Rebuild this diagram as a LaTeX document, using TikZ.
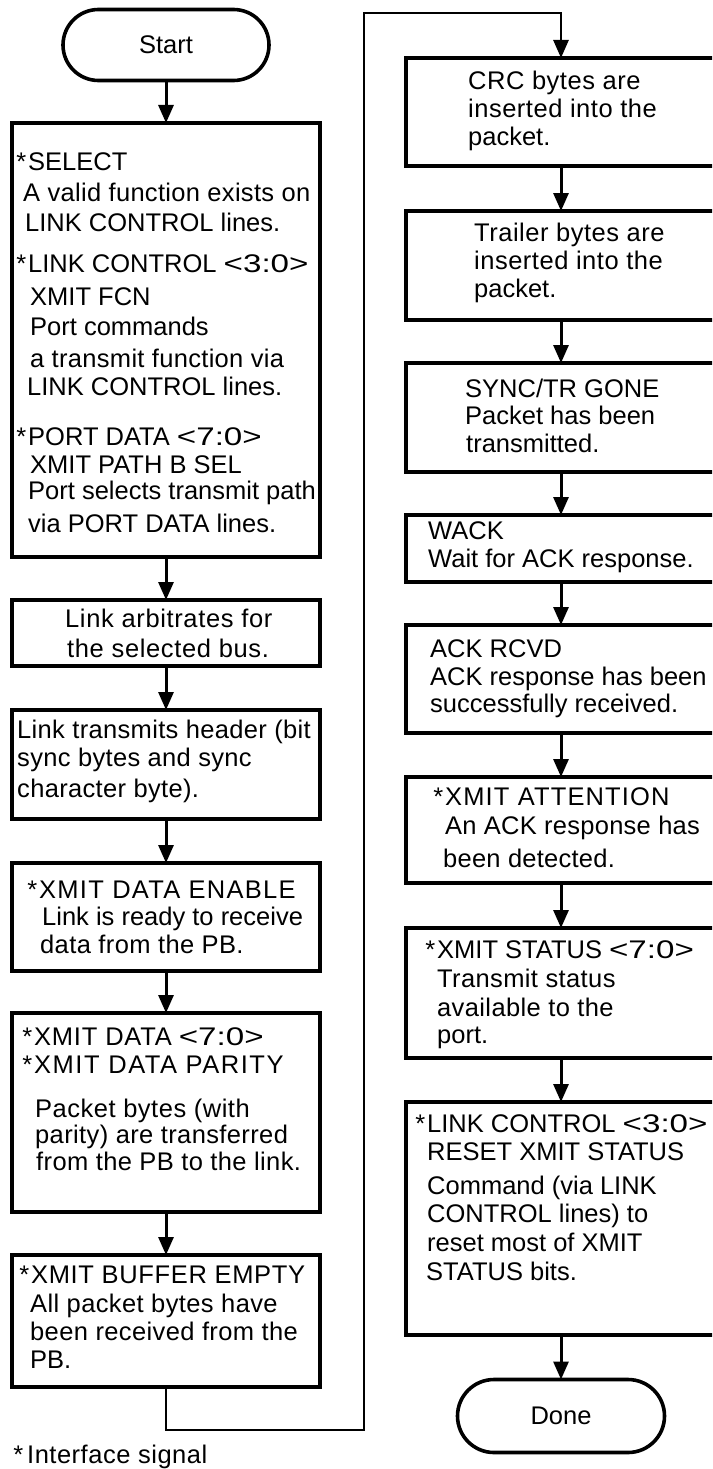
\documentclass[tikz,border=0pt]{standalone}
\usepackage{fontspec}
\usepackage{graphicx}
\setmainfont{Liberation Sans}
\usetikzlibrary{arrows.meta,shapes.misc}
% hanging asterisk that marks an interface signal
\newcommand\hang{\llap{*\kern2pt}}
% locally widened letter spacing
\newcommand\ls[2]{{\addfontfeature{LetterSpace=#1}#2}}
% bit-range field such as <3:0>, set in wide glyphs
\newcommand\bits[1]{\scalebox{1.3}[1]{#1}}
\begin{document}
\begin{tikzpicture}[x=1pt,y=-1pt,
  stepbox/.style={draw, line width=3.6pt, inner sep=0pt, outer sep=0pt, anchor=north west},
  term/.style={draw, rounded rectangle, line width=3.6pt, inner sep=0pt, outer sep=0pt,
               font=\fontsize{25.5}{30}\selectfont},
  txt/.style={inner sep=0pt, anchor=base west, font=\fontsize{25.5}{30}\selectfont},
  flow/.style={line width=3pt, -{Triangle[length=18pt,width=15pt]}},
  loopline/.style={line width=2.7pt, -{Triangle[length=18pt,width=15pt]}}]

\fill[white] (0,0) rectangle (712,1469);
\useasboundingbox (0,0) rectangle (712,1469);
\clip (0,0) rectangle (712,1469);

% ---------- left column ----------
\node[term, minimum width=206pt, minimum height=71pt] (start) at (166,45) {Start};

\node[stepbox, minimum width=308pt, minimum height=434pt] (b1) at (12,123) {};
\foreach \x/\y/\t [count=\i] in {
  28/170/{\hang SELECT},
  23/201/{\ls{1.2}{A valid function exists on}},
  25/231/{LINK CONTROL lines.},
  28/272/{\hang LINK CONTROL \bits{<3:0>}},
  30/305/{XMIT FCN},
  30/335/{Port commands},
  30/367/{\ls{1.2}{a transmit function via}},
  27/395/{LINK CONTROL lines.},
  28/445/{\hang PORT DATA \bits{<7:0>}},
  30/473/{XMIT PATH B SEL},
  28/499/{Port selects transmit path},
  28/532/{via PORT DATA lines.}}
  \node[txt] (b1t\i) at (\x,\y) {\t};

\node[stepbox, minimum width=308pt, minimum height=66pt] (b2) at (12,600) {};
\foreach \x/\y/\t [count=\i] in {
  65/627/{\ls{2.5}{Link arbitrates for}},
  67/657/{\ls{2.5}{the selected bus.}}}
  \node[txt] (b2t\i) at (\x,\y) {\t};

\node[stepbox, minimum width=308pt, minimum height=109pt] (b3) at (12,710) {};
\foreach \x/\y/\t [count=\i] in {
  17/738/{\ls{1.3}{Link transmits header (bit}},
  17/766/{\ls{1.3}{sync bytes and sync}},
  17/797/{\ls{1.3}{character byte).}}}
  \node[txt] (b3t\i) at (\x,\y) {\t};

\node[stepbox, minimum width=308pt, minimum height=108pt] (b4) at (12,863) {};
\foreach \x/\y/\t [count=\i] in {
  39/898/{\hang\ls{5}{XMIT DATA ENABLE}},
  42/925/{Link is ready to receive},
  40/953/{\ls{1.5}{data from the PB.}}}
  \node[txt] (b4t\i) at (\x,\y) {\t};

\node[stepbox, minimum width=308pt, minimum height=199pt] (b5) at (12,1013) {};
\foreach \x/\y/\t [count=\i] in {
  34/1045/{\hang\ls{3}{XMIT DATA} \bits{<7:0>}},
  34/1073/{\hang\ls{6}{XMIT DATA PARITY}},
  35/1117/{\ls{2}{Packet bytes (with}},
  35/1143/{\ls{1.5}{parity) are transferred}},
  36/1170/{\ls{1.5}{from the PB to the link.}}}
  \node[txt] (b5t\i) at (\x,\y) {\t};

\node[stepbox, minimum width=308pt, minimum height=132pt] (b6) at (12,1255) {};
\foreach \x/\y/\t [count=\i] in {
  31/1283/{\hang\ls{2.5}{XMIT BUFFER EMPTY}},
  30/1312/{\ls{1.5}{All packet bytes have}},
  30/1340/{\ls{1.5}{been received from the}},
  30/1368/{PB.}}
  \node[txt] (b6t\i) at (\x,\y) {\t};

\node[txt] (note) at (27,1463) {\llap{*\kern4pt}\ls{2}{Interface signal}};

% ---------- right column ----------
\node[stepbox, minimum width=310pt, minimum height=108pt] (r1) at (406,58) {};
\foreach \x/\y/\t [count=\i] in {
  468/90/{\ls{2}{CRC bytes are}},
  468/118/{\ls{2}{inserted into the}},
  468/146/{packet.}}
  \node[txt] (r1t\i) at (\x,\y) {\t};

\node[stepbox, minimum width=310pt, minimum height=109pt] (r2) at (406,211) {};
\foreach \x/\y/\t [count=\i] in {
  474/241/{\ls{2}{Trailer bytes are}},
  474/269/{\ls{2}{inserted into the}},
  474/297/{packet.}}
  \node[txt] (r2t\i) at (\x,\y) {\t};

\node[stepbox, minimum width=310pt, minimum height=109pt] (r3) at (406,363) {};
\foreach \x/\y/\t [count=\i] in {
  465/397/{SYNC\slash TR GONE},
  465/424/{Packet has been},
  466/452/{transmitted.}}
  \node[txt] (r3t\i) at (\x,\y) {\t};

\node[stepbox, minimum width=310pt, minimum height=67pt] (r4) at (406,515) {};
\foreach \x/\y/\t [count=\i] in {
  428/539/{WACK},
  428/567/{Wait for ACK response.}}
  \node[txt] (r4t\i) at (\x,\y) {\t};

\node[stepbox, minimum width=310pt, minimum height=108pt] (r5) at (406,625) {};
\foreach \x/\y/\t [count=\i] in {
  430/657/{ACK RCVD},
  430/685/{ACK response has been},
  430/712/{successfully received.}}
  \node[txt] (r5t\i) at (\x,\y) {\t};

\node[stepbox, minimum width=310pt, minimum height=106pt] (r6) at (406,777) {};
\foreach \x/\y/\t [count=\i] in {
  445/805/{\hang\ls{4.5}{XMIT ATTENTION}},
  445/834/{\ls{1}{An ACK response has}},
  443/867/{\ls{1}{been detected.}}}
  \node[txt] (r6t\i) at (\x,\y) {\t};

\node[stepbox, minimum width=310pt, minimum height=130pt] (r7) at (406,928) {};
\foreach \x/\y/\t [count=\i] in {
  437/958/{\hang XMIT STATUS \bits{<7:0>}},
  437/987/{\ls{1.5}{Transmit status}},
  437/1016/{\ls{1.5}{available to the}},
  437/1043/{port.}}
  \node[txt] (r7t\i) at (\x,\y) {\t};

\node[stepbox, minimum width=310pt, minimum height=233pt] (r8) at (406,1102) {};
\foreach \x/\y/\t [count=\i] in {
  427/1132/{\hang LINK CONTROL \bits{<3:0>}},
  427/1160/{RESET XMIT STATUS},
  427/1194/{Command (via LINK},
  427/1222/{CONTROL lines) to},
  427/1251/{reset most of XMIT},
  426/1280/{STATUS bits.}}
  \node[txt] (r8t\i) at (\x,\y) {\t};

\node[term, minimum width=207pt, minimum height=73pt] (done) at (561,1416) {Done};

% ---------- connectors ----------
\draw[flow] (start.south) -- (b1.north);
\draw[flow] (b1.south) -- (b2.north);
\draw[flow] (b2.south) -- (b3.north);
\draw[flow] (b3.south) -- (b4.north);
\draw[flow] (b4.south) -- (b5.north);
\draw[flow] (b5.south) -- (b6.north);

\coordinate (lb) at (364,1430);
\coordinate (lt) at (364,13);
\draw[loopline] (b6.south) |- (lb) -- (lt) -| (r1.north);

\draw[flow] (r1.south) -- (r2.north);
\draw[flow] (r2.south) -- (r3.north);
\draw[flow] (r3.south) -- (r4.north);
\draw[flow] (r4.south) -- (r5.north);
\draw[flow] (r5.south) -- (r6.north);
\draw[flow] (r6.south) -- (r7.north);
\draw[flow] (r7.south) -- (r8.north);
\draw[flow] (r8.south) -- (done.north);
\end{tikzpicture}
\end{document}
